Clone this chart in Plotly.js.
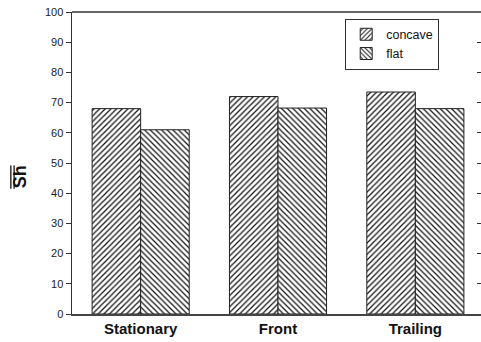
<!DOCTYPE html>
<html>
<head>
<meta charset="utf-8">
<script src="https://cdn.plot.ly/plotly-3.0.1.min.js"></script>
<style>
  html, body { margin: 0; padding: 0; background: #fff; }
  #chart { width: 481px; height: 342px; }
</style>
</head>
<body>
<div id="chart"></div>
<script>
// Mean Sherwood number per configuration
const categories = ['Stationary', 'Front', 'Trailing'];
const concave = [68, 72, 73.5];
const flat = [61, 68.2, 68];
const yTicks = [0, 10, 20, 30, 40, 50, 60, 70, 80, 90, 100];

const font = 'Arial, "Liberation Sans", sans-serif';

const traces = [
  {
    type: 'bar', name: 'concave', x: categories, y: concave,
    marker: {
      color: '#ffffff',
      line: { color: '#222', width: 1 },
      pattern: { shape: '/', size: 4, solidity: 0.3, fgcolor: '#111', bgcolor: '#ffffff' }
    }
  },
  {
    type: 'bar', name: 'flat', x: categories, y: flat,
    marker: {
      color: '#ffffff',
      line: { color: '#222', width: 1 },
      pattern: { shape: '\\', size: 4, solidity: 0.3, fgcolor: '#111', bgcolor: '#ffffff' }
    }
  },
  // invisible trace that carries the right-hand tick marks
  {
    type: 'scatter', x: [categories[0]], y: [0], yaxis: 'y2',
    mode: 'markers', marker: { opacity: 0 }, showlegend: false, hoverinfo: 'skip'
  }
];

const layout = {
  width: 481, height: 342,
  margin: { l: 72, r: 0, t: 12, b: 28 },
  paper_bgcolor: '#fff', plot_bgcolor: '#fff',
  font: { family: font, color: '#222', size: 11 },
  barmode: 'group',
  bargap: 0.293, bargroupgap: 0,
  showlegend: true,
  legend: {
    x: 0.668, y: 0.978, xanchor: 'left', yanchor: 'top',
    bgcolor: '#fff', bordercolor: '#333', borderwidth: 1,
    font: { family: font, size: 12.5, color: '#111' },
    tracegroupgap: 0, itemwidth: 30
  },
  xaxis: {
    type: 'category', range: [-0.5, 2.478],
    showline: true, linecolor: '#444', linewidth: 2,
    mirror: false, ticks: '', showgrid: false, zeroline: false,
    tickfont: { family: font, size: 15, color: '#111', weight: 'bold' }
  },
  yaxis: {
    range: [0, 100], tickvals: yTicks, ticktext: yTicks.map(String),
    showline: true, linecolor: '#333', linewidth: 1.5, mirror: false,
    ticks: 'outside', ticklen: 5, tickwidth: 1, tickcolor: '#333',
    showgrid: false, zeroline: false,
    tickfont: { family: font, size: 11, color: '#222' }
  },
  yaxis2: {
    overlaying: 'y', side: 'right', range: [0, 100], tickvals: yTicks,
    showticklabels: false, ticks: 'inside', ticklen: 4, tickwidth: 1, tickcolor: '#333',
    showline: false, showgrid: false, zeroline: false
  },
  // axis title: bold "Sh" with a double overbar
  annotations: [
    { text: 'Sh', textangle: -90, xref: 'paper', yref: 'paper',
      x: -0.127, y: 0.453, xanchor: 'center', yanchor: 'middle', showarrow: false,
      font: { family: font, size: 18, color: '#111', weight: 'bold' } }
  ],
  shapes: [
    { type: 'line', xref: 'paper', yref: 'paper', x0: 0, x1: 1, y0: 1, y1: 1,
      line: { color: '#333', width: 1.5 } },
    { type: 'line', xref: 'paper', yref: 'paper', x0: -0.1495, x1: -0.1495, y0: 0.415, y1: 0.492,
      line: { color: '#111', width: 1.3 } },
    { type: 'line', xref: 'paper', yref: 'paper', x0: -0.1415, x1: -0.1415, y0: 0.415, y1: 0.492,
      line: { color: '#111', width: 1.3 } }
  ]
};

Plotly.newPlot('chart', traces, layout, { displayModeBar: false, staticPlot: true });
</script>
</body>
</html>
